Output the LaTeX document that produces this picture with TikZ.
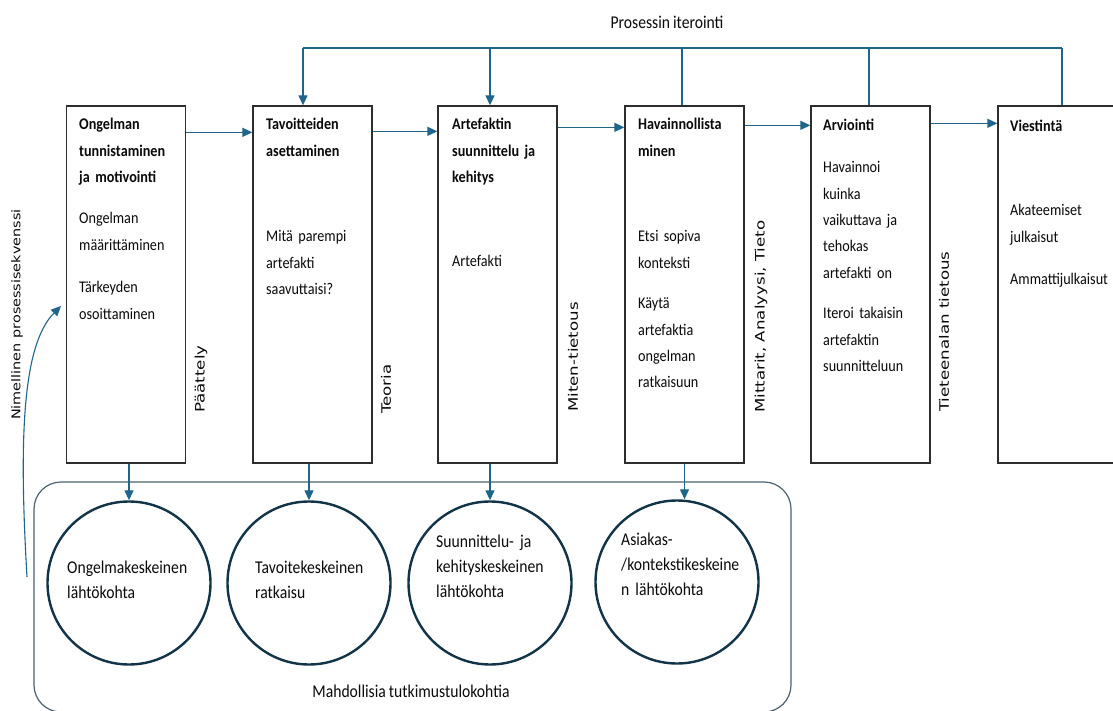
\documentclass[tikz,border=0pt]{standalone}
\usepackage{fontspec}
\usetikzlibrary{arrows.meta,calc}

% Fonts: Calibri-like text, Verdana-like rotated labels
\newfontfamily\boxfont[FakeStretch=0.87,WordSpace=0.85]{Carlito}
\newfontfamily\lblfont[FakeStretch=1.28]{DejaVu Sans}
\newfontfamily\seqfont[FakeStretch=1.2]{DejaVu Sans}
\newcommand\lnstrut{\rule{0pt}{12pt}}

\definecolor{flowblue}{RGB}{31,101,138}
\definecolor{ringc}{RGB}{18,52,72}
\definecolor{groupc}{RGB}{75,98,112}
\definecolor{boxc}{RGB}{45,45,45}
\definecolor{inkc}{RGB}{10,10,10}

\tikzset{
  stagebox/.style={draw=boxc, line width=1.3pt, minimum width=119pt, minimum height=357pt, inner sep=0pt},
  ring/.style={circle, draw=ringc, line width=2.4pt, minimum size=163pt, inner sep=0pt},
  grp/.style={draw=groupc, line width=1.2pt, rounded corners=27pt, inner sep=0pt},
  flow/.style={draw=flowblue, line width=1.3pt},
  flowarrow/.style={flow, -{Triangle[length=10pt,width=9pt]}},
  boxtitle/.style={anchor=north west, inner sep=0pt, text width=140pt, align=left, text=inkc,
    font=\boxfont\bfseries\fontsize{16.3}{26.4}\selectfont},
  boxbody/.style={anchor=north west, inner sep=0pt, text width=140pt, align=left, text=inkc,
    font=\boxfont\fontsize{16.3}{26.4}\selectfont},
  ringtext/.style={anchor=north west, inner sep=0pt, text width=150pt, align=left, text=inkc,
    font=\boxfont\fontsize{18}{25}\selectfont},
  plaintext/.style={inner sep=0pt, text=inkc, font=\boxfont\fontsize{18}{22}\selectfont},
  sidelabel/.style={rotate=90, anchor=west, inner sep=0pt, text=inkc, font=\lblfont\fontsize{13}{15}\selectfont},
}

\begin{document}
\begin{tikzpicture}[x=1pt, y=-1pt]
\fill[white] (0,0) rectangle (1113,711);
\useasboundingbox (0,0) rectangle (1113,711);

% group of possible research entry points
\node[grp, minimum width=757pt, minimum height=230pt] (grp) at (412.5,597) {};

% process stages
\node[stagebox] (b1) at (126,284.5) {};
\node[stagebox] (b2) at (312.5,284.5) {};
\node[stagebox] (b3) at (497.5,284.5) {};
\node[stagebox] (b4) at (684.5,284.5) {};
\node[stagebox] (b5) at (870.5,284.5) {};
\node[stagebox] (b6) at (1057.5,284.5) {};

% stage texts
\node[boxtitle] (b1t) at (79,117.5) {\lnstrut Ongelman\\tunnistaminen\\ja motivointi};
\node[boxbody] (b1x) at (79,211.5) {\lnstrut Ongelman\\määrittäminen};
\node[boxbody] (b1y) at (79,280.5) {\lnstrut Tärkeyden\\osoittaminen};

\node[boxtitle] (b2t) at (266,117.5) {\lnstrut Tavoitteiden\\asettaminen};
\node[boxbody] (b2x) at (266,229.5) {\lnstrut Mitä parempi\\artefakti\\saavuttaisi?};

\node[boxtitle] (b3t) at (452,117.5) {\lnstrut Artefaktin\\suunnittelu ja\\kehitys};
\node[boxbody] (b3x) at (452,254.5) {\lnstrut Artefakti};

\node[boxtitle] (b4t) at (638,117.5) {\lnstrut Havainnollista\\minen};
\node[boxbody] (b4x) at (638,229.5) {\lnstrut Etsi sopiva\\konteksti};
\node[boxbody] (b4y) at (638,296.5) {\lnstrut Käytä\\artefaktia\\ongelman\\ratkaisuun};

\node[boxtitle] (b5t) at (823,118.5) {\lnstrut Arviointi};
\node[boxbody] (b5x) at (823,160.5) {\lnstrut Havainnoi\\kuinka\\vaikuttava ja\\tehokas\\artefakti on};
\node[boxbody] (b5y) at (823,306.5) {\lnstrut Iteroi takaisin\\artefaktin\\suunnitteluun};

\node[boxtitle] (b6t) at (1010,119.5) {\lnstrut Viestintä};
\node[boxbody] (b6x) at (1010,203.5) {\lnstrut Akateemiset\\julkaisut};
\node[boxbody] (b6y) at (1010,272.5) {\lnstrut Ammattijulkaisut};

% labels between the stages
\node[sidelabel] (l1) at (201,413) {Päättely};
\node[sidelabel] (l2) at (386,414) {Teoria};
\node[sidelabel] (l3) at (573,412) {Miten-tietous};
\node[sidelabel] (l4) at (761,413) {Mittarit, Analyysi, Tieto};
\node[sidelabel] (l5) at (944,412) {Tieteenalan tietous};
\node[sidelabel, font=\seqfont\fontsize{12}{14}\selectfont] (seq) at (17,420) {Nimellinen prosessisekvenssi};

% entry points
\node[ring] (c1) at (129,583) {};
\node[ring] (c2) at (309,583) {};
\node[ring] (c3) at (490,583) {};
\node[ring] (c4) at (677,582) {};

\node[ringtext] (c1t) at (67,560.5) {\lnstrut Ongelmakeskeinen\\lähtökohta};
\node[ringtext] (c2t) at (255,560.5) {\lnstrut Tavoitekeskeinen\\ratkaisu};
\node[ringtext] (c3t) at (436,534.5) {\lnstrut Suunnittelu- ja\\kehityskeskeinen\\lähtökohta};
\node[ringtext] (c4t) at (621,532.5) {\lnstrut Asiakas-\\/kontekstikeskeine\\n lähtökohta};

\node[plaintext] (iter) at (667,22) {Prosessin iterointi};
\node[plaintext] (cap) at (411,691) {Mahdollisia tutkimustulokohtia};

% iteration line over the stages
\coordinate (it2) at (303,48);
\coordinate (it3) at (490,48);
\coordinate (it4) at (682,48);
\coordinate (it5) at (869,48);
\coordinate (it6) at (1062,48);
\draw[flow] (it6) -- (it2);
\draw[flowarrow] (it2) -- (it2 |- b2.north);
\draw[flowarrow] (it3) -- (it3 |- b3.north);
\draw[flow] (b4.north -| it4) -- (it4);
\draw[flow] (b5.north -| it5) -- (it5);
\draw[flow] (b6.north -| it6) -- (it6);

% stage sequence
\draw[flowarrow] ([yshift=-27pt]b1.north east) -- ([yshift=-27pt]b2.north west);
\draw[flowarrow] ([yshift=-26pt]b2.north east) -- ([yshift=-26pt]b3.north west);
\draw[flowarrow] ([yshift=-22pt]b3.north east) -- ([yshift=-22pt]b4.north west);
\draw[flowarrow] ([yshift=-20pt]b4.north east) -- ([yshift=-20pt]b5.north west);
\draw[flowarrow] ([yshift=-18pt]b5.north east) -- ([yshift=-18pt]b6.north west);

% stages to entry points
\draw[flowarrow] (c1.north |- b1.south) -- (c1.north);
\draw[flowarrow] (c2.north |- b2.south) -- (c2.north);
\draw[flowarrow] (c3.north |- b3.south) -- (c3.north);
\draw[flowarrow] (b4.south) -- (b4.south |- c4.north);

% nominal process sequence
\coordinate (seqstart) at (27,577);
\coordinate (seqend) at (61,306);
\draw[flowarrow, line width=1.1pt] (seqstart) .. controls (19,440) and (22,345) .. (seqend);
\end{tikzpicture}
\end{document}
